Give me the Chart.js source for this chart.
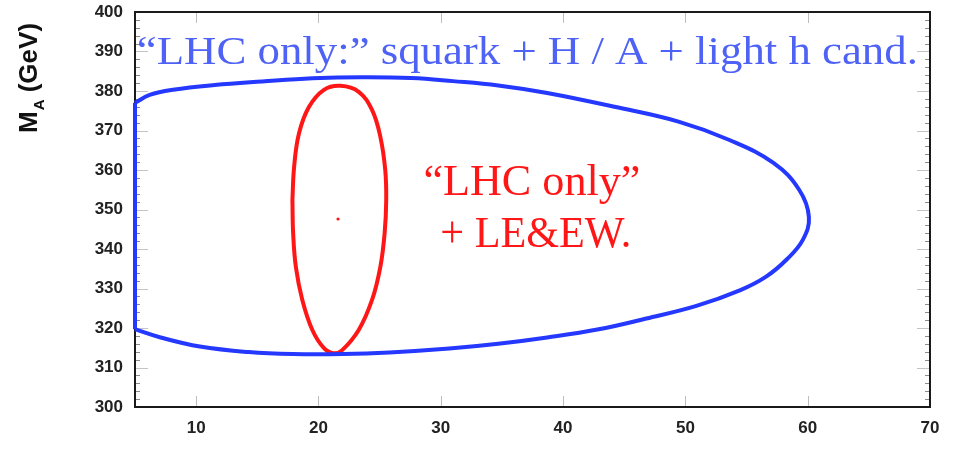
<!DOCTYPE html>
<html>
<head>
<meta charset="utf-8">
<script src="https://cdn.jsdelivr.net/npm/chart.js@4.4.1/dist/chart.umd.min.js"></script>
<style>
  html, body { margin: 0; padding: 0; background: #fff; }
  #wrap { width: 953px; height: 454px; position: relative; }
</style>
</head>
<body>
<div id="wrap"><canvas id="chart"></canvas></div>
<script>
// axis ticks
const xTicks = [10, 20, 30, 40, 50, 60, 70];
const yTicks = [300, 310, 320, 330, 340, 350, 360, 370, 380, 390, 400];

// "LHC only" contour (blue), clockwise from the left edge
const blueX = [5, 6.2, 8.1, 11.5, 15.4, 19.5, 23.5, 27.6, 31, 34.7, 38.7, 44.2, 49.5, 53.6, 57.2, 59.3, 60.1,
               59.6, 58.3, 56.6, 54.5, 50.9, 46.8, 42.8, 38.7, 34.7, 30.7, 25.8, 22, 17.9, 14.3, 10.3, 7.1, 5];
const blueY = [377, 379, 380.3, 381.5, 382.4, 383.2, 383.5, 383.3, 382.5, 381.4, 379.5, 376.0, 372.2, 367.6, 361.8, 355, 348.1,
               342.3, 337.4, 333.0, 329.6, 325.6, 322.4, 319.6, 317.6, 316.0, 314.8, 313.8, 313.4, 313.4, 313.9, 315.3, 317.6, 319.7];
// part of the blue contour that runs along the x = 5 edge
const blueEdgeX = [5, 5];
const blueEdgeY = [319.7, 377];

// "LHC only" + LE&EW contour (red), starting at its left side
const redX = [17.87, 18.01, 18.41, 19.23, 20.45, 21.8, 23.29, 24.38, 25.06, 25.46, 25.54, 25.41, 25.06, 24.38,
              23.29, 21.94, 21.26, 20.45, 19.5, 18.68, 18.15, 17.93, 17.87];
const redY = [352.4, 360.8, 369.3, 376.0, 380.3, 381.3, 379.8, 375.2, 368.4, 360.0, 352.4, 344.0, 335.5, 327.1,
              319.5, 314.4, 313.6, 314.9, 319.5, 327.1, 335.5, 344.0, 352.4];
// best fit point
const bestX = [21.6];
const bestY = [347.6];

const BLUE = 'rgb(36,56,255)';
const BLUE_TXT = 'rgb(78,98,245)';
const RED = 'rgb(255,22,22)';

function pts(xs, ys){ return xs.map((x, i) => ({ x, y: ys[i] })); }

const framePlugin = {
  id: 'frame',
  beforeDatasetsDraw(chart){
    const { ctx, chartArea: a, scales: { x, y } } = chart;
    ctx.save();
    // inner tick marks, ROOT style
    ctx.lineWidth = 1;
    ctx.strokeStyle = '#bdbdbd';
    xTicks.forEach(v => {
      const px = Math.round(x.getPixelForValue(v)) + 0.5;
      ctx.beginPath();
      ctx.moveTo(px, a.bottom); ctx.lineTo(px, a.bottom - 11);
      ctx.moveTo(px, a.top); ctx.lineTo(px, a.top + 11);
      ctx.stroke();
    });
    for (let v = 300; v <= 400; v += 2) {
      const py = Math.round(y.getPixelForValue(v)) + 0.5;
      const major = v % 10 === 0;
      ctx.strokeStyle = major ? '#c4c4c4' : '#8a8a8a';
      const len = major ? 13 : 5;
      ctx.beginPath();
      ctx.moveTo(a.left, py); ctx.lineTo(a.left + len, py);
      ctx.moveTo(a.right, py); ctx.lineTo(a.right - len, py);
      ctx.stroke();
    }
    // frame
    ctx.strokeStyle = '#1a1a1a';
    ctx.lineWidth = 2;
    ctx.strokeRect(a.left, a.top, a.right - a.left, a.bottom - a.top);
    ctx.restore();
  },
  afterDatasetsDraw(chart){
    const { ctx, scales: { x, y } } = chart;
    ctx.save();
    ctx.textBaseline = 'alphabetic';
    ctx.textAlign = 'left';

    // fit a text line to a given width
    function fitText(str, x0, base, width, size, color){
      ctx.font = size + 'px "Liberation Serif", "DejaVu Serif", serif';
      const w = ctx.measureText(str).width;
      ctx.save();
      ctx.translate(x0, base);
      ctx.scale(width / w, 1);
      ctx.fillStyle = color;
      ctx.fillText(str, 0, 0);
      ctx.restore();
    }
    fitText('\u201CLHC only:\u201D squark + H / A + light h cand.',
      x.getPixelForValue(5.15), y.getPixelForValue(386.8), 781, 40, BLUE_TXT);
    fitText('\u201CLHC only\u201D', x.getPixelForValue(28.58), y.getPixelForValue(353.7), 217, 45, RED);
    fitText('+ LE&EW.', x.getPixelForValue(29.96), y.getPixelForValue(340.5), 191, 45, RED);

    // y axis title: M_A (GeV)
    ctx.translate(37, 133);
    ctx.rotate(-Math.PI / 2);
    ctx.fillStyle = '#111';
    ctx.font = 'bold 26px "Liberation Sans", Arial, sans-serif';
    ctx.fillText('M', 0, 0);
    const mw = ctx.measureText('M').width;
    ctx.font = 'bold 15px "Liberation Sans", Arial, sans-serif';
    ctx.fillText('A', mw + 1, 7);
    const aw = ctx.measureText('A').width;
    ctx.font = 'bold 26px "Liberation Sans", Arial, sans-serif';
    ctx.fillText(' (GeV)', mw + aw + 1, 0);
    ctx.restore();
  }
};

const tickFont = { family: '"Liberation Sans", Arial, sans-serif', size: 17, weight: 'bold' };

new Chart(document.getElementById('chart'), {
  type: 'scatter',
  data: {
    datasets: [
      { data: pts(blueX, blueY), showLine: true, borderColor: BLUE, borderWidth: 4, tension: 0.4,
        pointRadius: 0, clip: false },
      { data: pts(blueEdgeX, blueEdgeY), showLine: true, borderColor: BLUE, borderWidth: 4, tension: 0,
        pointRadius: 0, clip: false },
      { data: pts(redX, redY), showLine: true, borderColor: RED, borderWidth: 4, tension: 0.4,
        pointRadius: 0 },
      { data: pts(bestX, bestY), showLine: false, backgroundColor: RED, borderWidth: 0, pointRadius: 1.6 }
    ]
  },
  options: {
    responsive: true,
    maintainAspectRatio: false,
    animation: false,
    events: [],
    layout: { padding: { top: 12, right: 23, left: 0, bottom: 0 } },
    plugins: { legend: { display: false }, tooltip: { enabled: false } },
    scales: {
      x: {
        type: 'linear', min: 5, max: 70,
        afterBuildTicks: s => { s.ticks = xTicks.map(v => ({ value: v })); },
        afterFit: s => { s.height = 47; s.paddingLeft = 0; s.paddingRight = 0; },
        grid: { display: false, drawTicks: false },
        border: { display: false },
        ticks: { font: tickFont, color: '#222', padding: 11, maxRotation: 0 }
      },
      y: {
        type: 'linear', min: 300, max: 400,
        afterBuildTicks: s => { s.ticks = yTicks.map(v => ({ value: v })); },
        afterFit: s => { s.width = 135; s.paddingTop = 0; s.paddingBottom = 0; },
        grid: { display: false, drawTicks: false },
        border: { display: false },
        ticks: { font: tickFont, color: '#222', padding: 12 }
      }
    }
  },
  plugins: [framePlugin]
});
</script>
</body>
</html>
